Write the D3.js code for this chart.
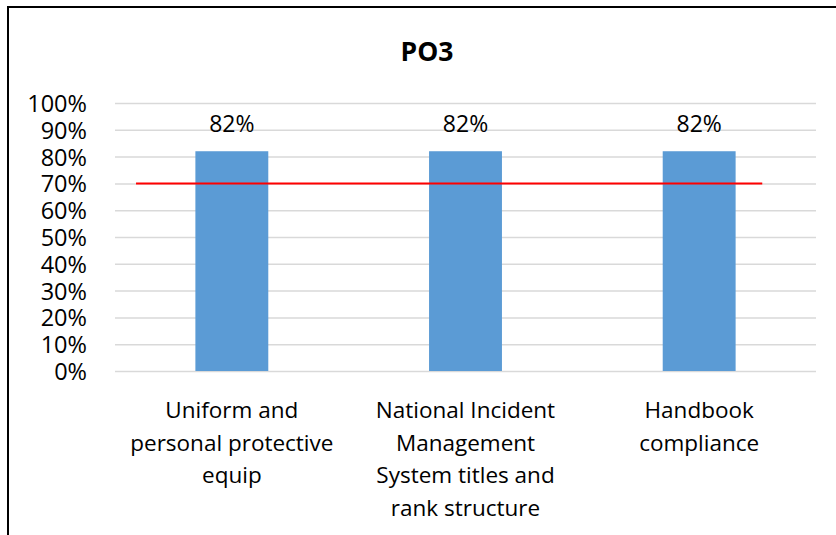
<!DOCTYPE html>
<html>
<head>
<meta charset="utf-8">
<script src="https://cdn.jsdelivr.net/npm/d3@7"></script>
<style>
  body { margin: 0; background: #fff; }
  text { font-family: "Open Sans", Lato, sans-serif; fill: #000; font-variant-ligatures: none; }
</style>
</head>
<body>
<svg width="836" height="535"></svg>
<script>
var categories = [
    ["Uniform and", "personal protective", "equip"],
    ["National Incident", "Management", "System titles and", "rank structure"],
    ["Handbook", "compliance"]
];
var values = [0.82, 0.82, 0.82];
var yTicks = [0, 0.1, 0.2, 0.3, 0.4, 0.5, 0.6, 0.7, 0.8, 0.9, 1.0];
var target = 0.7;
var targetSpan = [0.09, 2.77]; // in category units
var title = "PO3";

var width = 836;
var height = 535;
var padLeft = 115, padRight = 816, padTop = 103, padBottom = 371;

var svg = d3.select("svg");

// chart frame (only top and left edges show)
svg.append("path")
    .attr("d", "M8,545 L8,7 L846,7")
    .attr("fill", "none")
    .attr("stroke", "#000")
    .attr("stroke-width", 2);

var xScale = d3.scaleBand()
    .domain(d3.range(categories.length))
    .range([padLeft, padRight])
    .padding(0);

var xUnit = d3.scaleLinear()
    .domain([0, categories.length])
    .range([padLeft, padRight]);

var yScale = d3.scaleLinear()
    .domain([0, 1])
    .range([padBottom, padTop]);

var yAxis = d3.axisLeft(yScale)
    .tickValues(yTicks)
    .tickFormat(d3.format(".0%"))
    .tickSize(-(padRight - padLeft))
    .tickPadding(28);

var gy = svg.append("g")
    .attr("transform", "translate(" + padLeft + ",0)")
    .call(yAxis);
gy.select(".domain").remove();
gy.selectAll(".tick line")
    .attr("stroke", "#d9d9d9")
    .attr("stroke-width", 1.5);
gy.selectAll(".tick text")
    .attr("font-size", 23.5)
    .attr("font-family", "'Open Sans', sans-serif")
    .attr("dy", "0.36em");

var barW = xScale.bandwidth() * 0.312;

svg.selectAll("rect.bar")
    .data(values)
    .enter()
    .append("rect")
    .attr("class", "bar")
    .attr("x", (d, i) => xScale(i) + xScale.bandwidth() / 2 - barW / 2)
    .attr("y", d => yScale(d))
    .attr("width", barW)
    .attr("height", d => yScale(0) - yScale(d))
    .attr("fill", "#5b9bd5");

svg.selectAll("text.val")
    .data(values)
    .enter()
    .append("text")
    .attr("class", "val")
    .attr("x", (d, i) => xScale(i) + xScale.bandwidth() / 2)
    .attr("y", d => yScale(d) - 19)
    .attr("text-anchor", "middle")
    .attr("font-size", 23)
    .text(d => d3.format(".0%")(d));

svg.append("line")
    .attr("x1", xUnit(targetSpan[0]))
    .attr("x2", xUnit(targetSpan[1]))
    .attr("y1", yScale(target))
    .attr("y2", yScale(target))
    .attr("stroke", "#ff0000")
    .attr("stroke-width", 2);

var labels = svg.selectAll("text.cat")
    .data(categories)
    .enter()
    .append("text")
    .attr("class", "cat")
    .attr("text-anchor", "middle")
    .attr("font-size", 22.5);
labels.each(function(lines, i) {
    d3.select(this).selectAll("tspan")
        .data(lines)
        .enter()
        .append("tspan")
        .attr("x", xScale(i) + xScale.bandwidth() / 2)
        .attr("y", (d, j) => 418 + j * 32.6)
        .text(d => d);
});

svg.append("text")
    .attr("x", width / 2 + 9)
    .attr("y", 61)
    .attr("text-anchor", "middle")
    .attr("font-size", 26.5)
    .attr("font-weight", "bold")
    .text(title);
</script>
</body>
</html>
